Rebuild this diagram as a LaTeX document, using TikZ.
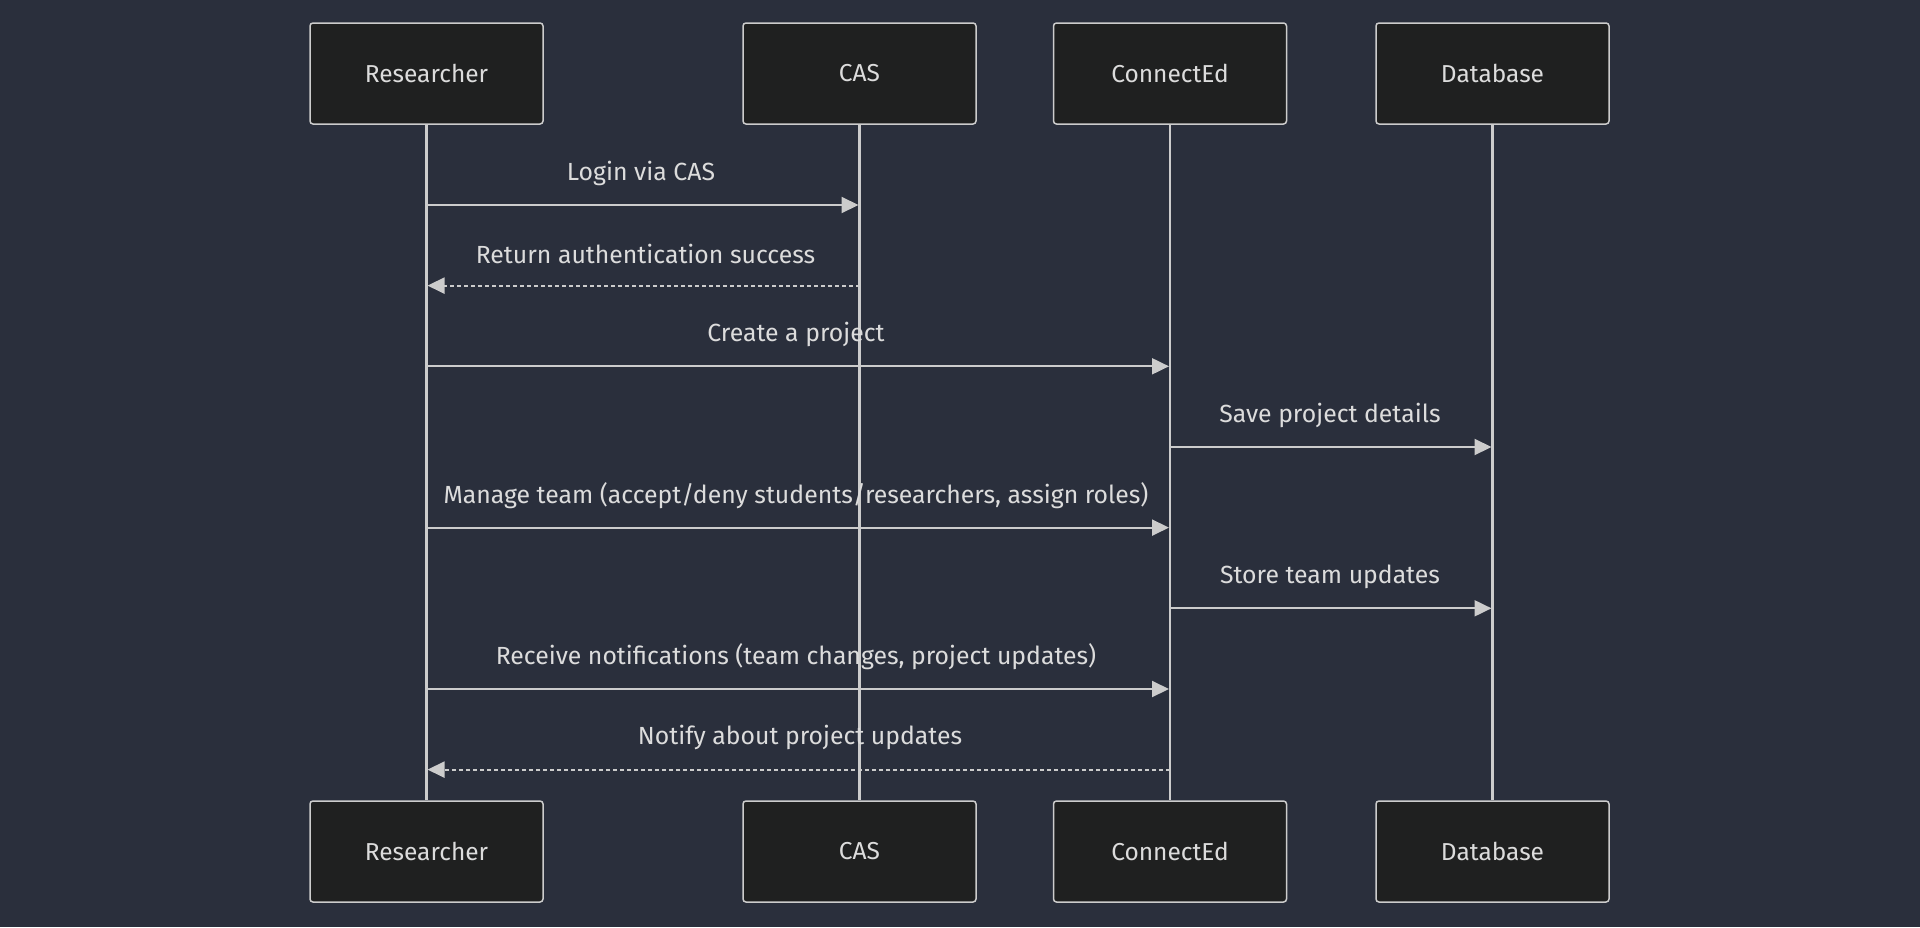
\documentclass[tikz,border=0pt]{standalone}
\usepackage{fontspec}
\setmainfont{Fira Sans}
\usetikzlibrary{arrows.meta}
\definecolor{bg}{RGB}{42,47,60}
\definecolor{boxfill}{RGB}{31,32,32}
\definecolor{ln}{RGB}{204,204,204}
\definecolor{txt}{RGB}{220,220,220}
\tikzset{
  actor/.style={draw=ln, line width=1.5pt, fill=boxfill, rounded corners=3pt, minimum width=233pt, minimum height=101pt, inner sep=0pt, text=txt, font=\fontsize{24.5}{29}\selectfont},
  life/.style={draw=ln, line width=2.8pt},
  msg/.style={draw=ln, line width=2pt, -{Triangle[length=17pt,width=16pt]}},
  reply/.style={msg, dash pattern=on 4pt off 3pt},
  lbl/.style={text=txt, font=\fontsize{24.8}{29}\selectfont, inner sep=0pt}
}
\begin{document}
\begin{tikzpicture}[x=1pt,y=-1pt]
\useasboundingbox[fill=bg] (0,0) rectangle (1920,927);
% actors
\node[actor] (rT) at (426.5,73.5) {Researcher};
\node[actor] (cT) at (859.5,73.5) {CAS};
\node[actor] (eT) at (1170,73.5) {ConnectEd};
\node[actor] (dT) at (1492.5,73.5) {Database};
\node[actor] (rB) at (426.5,851.5) {Researcher};
\node[actor] (cB) at (859.5,851.5) {CAS};
\node[actor] (eB) at (1170,851.5) {ConnectEd};
\node[actor] (dB) at (1492.5,851.5) {Database};
% lifelines
\draw[life] (rT.south) -- (rB.north);
\draw[life] (cT.south) -- (cB.north);
\draw[life] (eT.south) -- (eB.north);
\draw[life] (dT.south) -- (dB.north);
% message anchor coordinates
\foreach \i/\y in {1/205,2/285.6,3/366.3,4/447,5/527.6,6/608.3,7/689,8/769.6}{
  \coordinate (r\i) at (426.5,\y);
  \coordinate (c\i) at (859.5,\y);
  \coordinate (e\i) at (1170,\y);
  \coordinate (d\i) at (1492.5,\y);
}
% messages
\draw[msg] (r1) -- ([xshift=-1pt]c1);
\node[lbl] (l1) at (641,173) {Login via CAS};
\draw[reply] (c2) -- ([xshift=1pt]r2);
\node[lbl] (l2) at (645.5,253.5) {Return authentication success};
\draw[msg] (r3) -- ([xshift=-1pt]e3);
\node[lbl] (l3) at (796,334) {Create a project};
\draw[msg] (e4) -- ([xshift=-1pt]d4);
\node[lbl] (l4) at (1330,415) {Save project details};
\draw[msg] (r5) -- ([xshift=-1pt]e5);
\node[lbl] (l5) at (796,495.5) {Manage team (accept/deny students/researchers, assign roles)};
\draw[msg] (e6) -- ([xshift=-1pt]d6);
\node[lbl] (l6) at (1330,576.5) {Store team updates};
\draw[msg] (r7) -- ([xshift=-1pt]e7);
\node[lbl] (l7) at (796,657) {Receive notifications (team changes, project updates)};
\draw[reply] (e8) -- ([xshift=1pt]r8);
\node[lbl] (l8) at (800,737.5) {Notify about project updates};
\end{tikzpicture}
\end{document}
